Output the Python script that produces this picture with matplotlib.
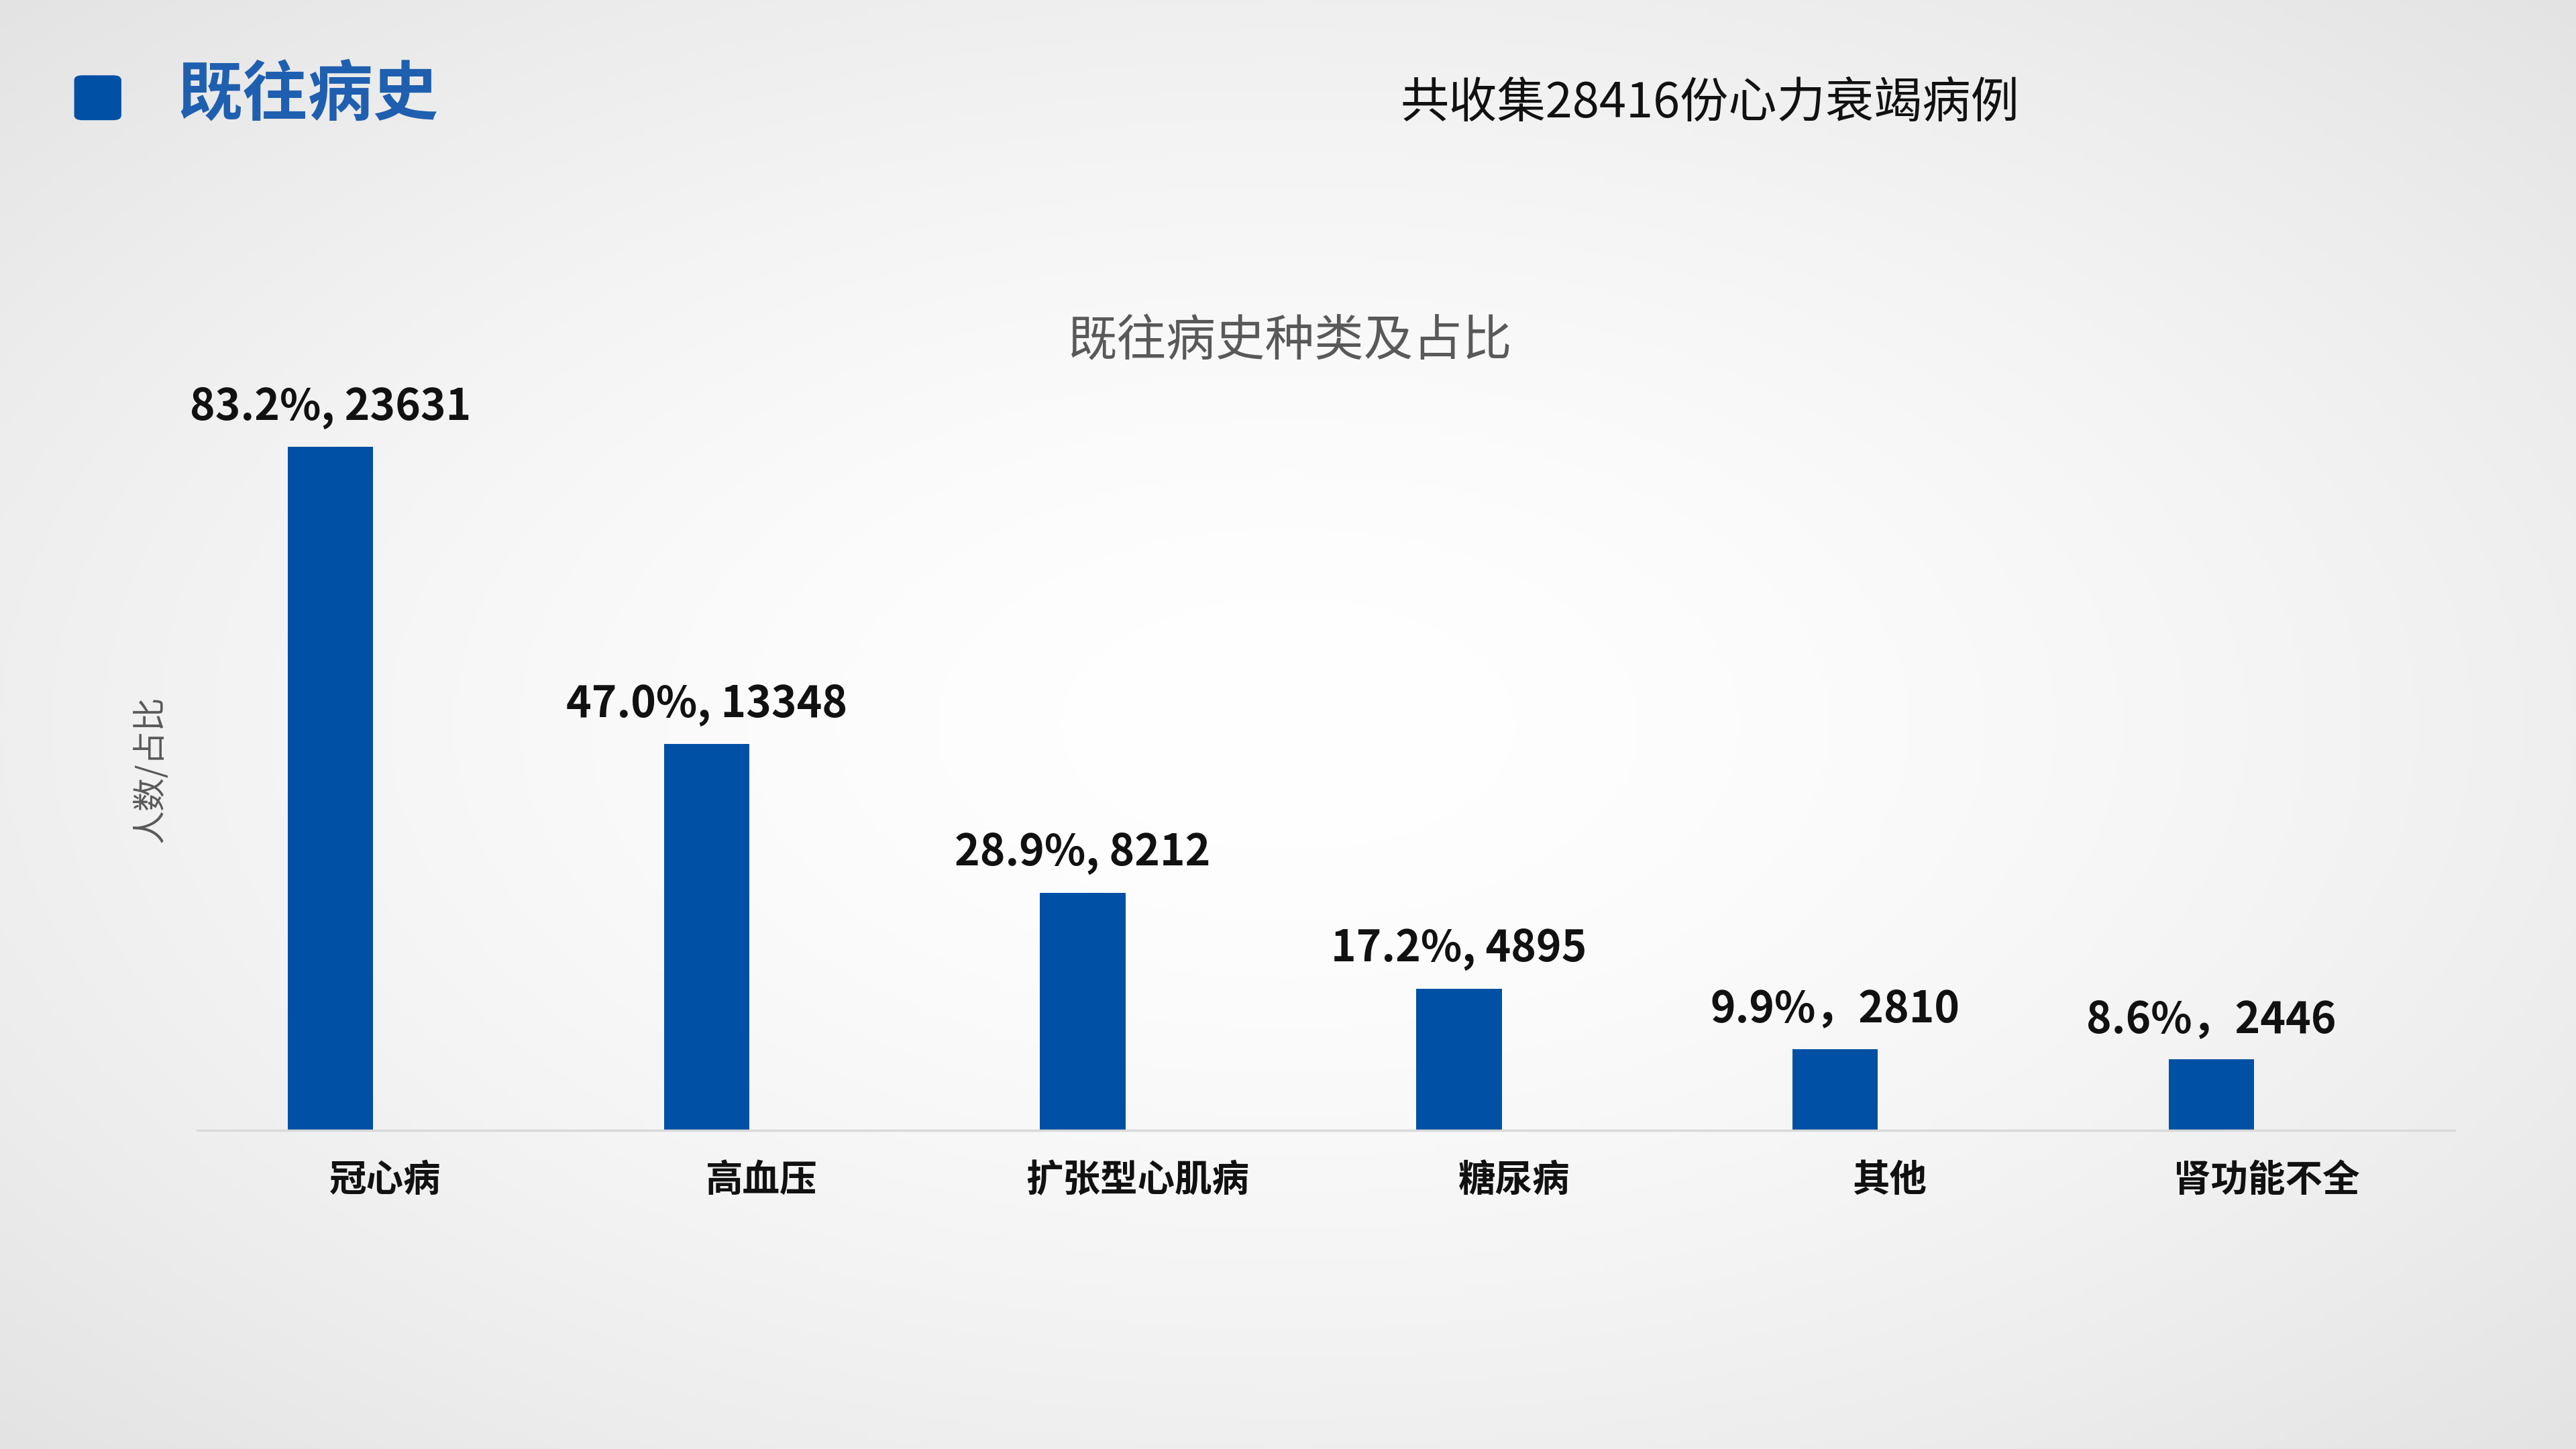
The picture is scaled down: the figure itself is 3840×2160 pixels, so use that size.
import matplotlib
matplotlib.use("Agg")
import matplotlib.pyplot as plt
import numpy as np
from matplotlib.patches import FancyBboxPatch

plt.rcParams['font.family'] = ['Noto Sans CJK SC', 'DejaVu Sans']

categories = ["冠心病", "高血压", "扩张型心肌病", "糖尿病", "其他", "肾功能不全"]
counts = [23631, 13348, 8212, 4895, 2810, 2446]
labels = ["83.2%, 23631", "47.0%, 13348", "28.9%, 8212", "17.2%, 4895", "9.9%，2810", "8.6%，2446"]

W, H = 1568, 882
fig = plt.figure(figsize=(38.4, 21.6), dpi=100)

bg = fig.add_axes([0, 0, 1, 1])
yy, xx = np.mgrid[0:1:300j, 0:1:540j]
r = np.sqrt(((xx - 0.5) / 0.75) ** 2 + ((yy - 0.5) / 0.75) ** 2)
g = 1.0 - 0.12 * np.clip(r, 0, 1) ** 1.6
bg.imshow(np.dstack([g, g, g]), extent=[0, 1, 0, 1], aspect='auto', origin='lower')
bg.set_axis_off()

def fx(x): return x / W
def fy(y): return 1 - y / H

fig.patches.append(FancyBboxPatch((fx(47), fy(72)), fx(25), 25 / H, transform=fig.transFigure,
                                  boxstyle="round,pad=0.001,rounding_size=0.003",
                                  color='#0050a5', zorder=5))
fig.text(fx(108), fy(58), "既往病史", fontsize=70, fontweight='bold', color='#1f5fb0',
         va='center', ha='left')
fig.text(fx(1041), fy(63), "共收集28416份心力衰竭病例", fontsize=52, color='#111111',
         va='center', ha='center')
fig.text(fx(785), fy(208), "既往病史种类及占比", fontsize=53, color='#595959',
         va='center', ha='center')
fig.text(fx(92), fy(468), "人数/占比", fontsize=36, color='#595959', rotation=90,
         va='center', ha='center')

ax = fig.add_axes([fx(120), fy(688), fx(1494) - fx(120), (688 - 200) / H])
ax.patch.set_alpha(0)
x = np.arange(len(categories))
off = -0.146
ax.bar(x + off, counts, width=0.227, color='#0050a5')
for xi, c, l in zip(x, counts, labels):
    ax.text(xi + off, c + 23631 * 0.026, l, ha='center', va='bottom', fontsize=46,
            fontweight='bold', color='#111111')
ax.set_xlim(-0.5, 5.5)
ax.set_ylim(0, 488 / 416 * 23631)
ax.set_xticks(x)
ax.set_xticklabels(categories, fontsize=40, fontweight='bold', color='#111111')
ax.tick_params(axis='x', length=0, pad=34)
ax.set_yticks([])
for s in ['top', 'right', 'left']:
    ax.spines[s].set_visible(False)
ax.spines['bottom'].set_color('#d9d9d9')
ax.spines['bottom'].set_linewidth(2.5)

fig.savefig("out.png", dpi=100)
